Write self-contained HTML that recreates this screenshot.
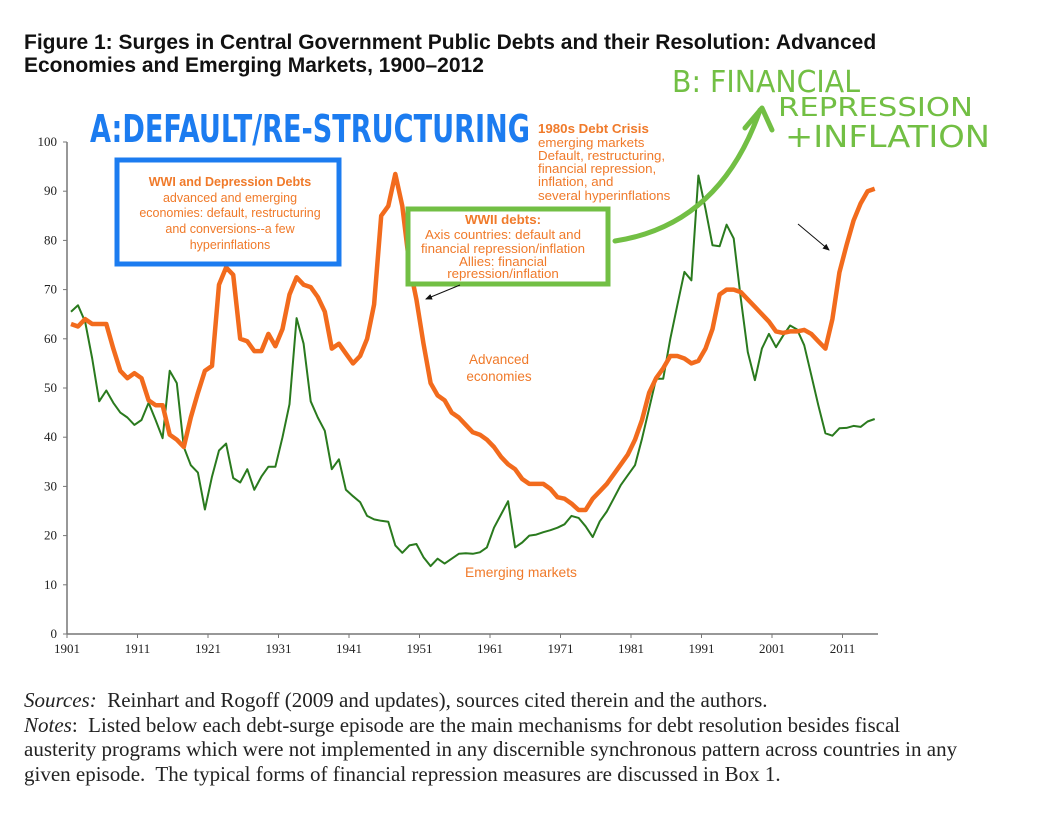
<!DOCTYPE html>
<html><head><meta charset="utf-8">
<style>
body{margin:0;background:#fff;width:1048px;height:815px;overflow:hidden;position:relative;font-family:"Liberation Sans",sans-serif}
.title{position:absolute;left:24px;top:31px;font-weight:bold;font-size:21px;line-height:23px;color:#111;white-space:nowrap}
.foot{position:absolute;left:24px;top:688px;font-family:"Liberation Serif",serif;font-size:21px;line-height:24.5px;color:#222;white-space:nowrap}
</style></head><body>
<div class="title">Figure 1: Surges in Central Government Public Debts and their Resolution: Advanced<br>Economies and Emerging Markets, 1900–2012</div>
<svg id="chart" width="1048" height="815" style="position:absolute;left:0;top:0"></svg>
<div class="foot"><i>Sources:</i>&nbsp; Reinhart and Rogoff (2009 and updates), sources cited therein and the authors.<br><i>Notes</i>:&nbsp; Listed below each debt-surge episode are the main mechanisms for debt resolution besides fiscal<br>austerity programs which were not implemented in any discernible synchronous pattern across countries in any<br>given episode.&nbsp; The typical forms of financial repression measures are discussed in Box 1.</div>
<script>
const firstYear = 1901;
const advanced = [63,62.5,64,63,63,63,58,53.5,52,53,52,47.5,46.5,46.5,40.5,39.5,38,44,49,53.5,54.5,71,74.5,73,60,59.5,57.5,57.5,61,58.5,62,69,72.5,71,70.5,68.5,65.5,58,59,57,55,56.5,60,67,85,87,93.5,87,75,68,59,51,48.5,47.5,45,44,42.5,41,40.5,39.5,38,36,34.5,33.5,31.5,30.5,30.5,30.5,29.5,27.8,27.5,26.5,25.2,25.2,27.5,29,30.5,32.5,34.5,36.5,39.5,43.5,49,52,54,56.5,56.5,56,55,55.5,58,62,69,70,70,69.5,68,66.5,65,63.5,61.5,61.2,61.5,61.5,61.8,61,59.5,58,64,73.5,79,84,87.5,90,90.5];
const emerging = [65.5,66.8,63.5,56,47.3,49.5,47,45,44,42.5,43.5,47,43.5,39.8,53.5,51,38,34.3,32.8,25.3,32,37.3,38.7,31.7,30.8,33.5,29.3,32,34,34,40,46.7,64.2,59,47.3,44,41.3,33.5,35.5,29.3,28,26.8,24,23.3,23,22.8,18,16.5,18,18.3,15.6,13.8,15.3,14.3,15.3,16.3,16.4,16.3,16.6,17.6,21.6,24.3,27,17.6,18.6,20,20.2,20.7,21.1,21.6,22.3,24,23.6,21.9,19.7,22.9,24.9,27.6,30.3,32.3,34.3,39.7,45.8,51.9,51.9,60,66.8,73.6,71.9,93.2,86.4,79,78.8,83.2,80.4,68.2,57.3,51.6,58,61,58.3,60.6,62.7,61.9,58.7,52.6,46.5,40.8,40.3,41.8,41.9,42.3,42.1,43.2,43.7];
const yTicks = [0,10,20,30,40,50,60,70,80,90,100];
const xTicks = [1901,1911,1921,1931,1941,1951,1961,1971,1981,1991,2001,2011];

const NS='http://www.w3.org/2000/svg';
const svg=document.getElementById('chart');
const X0=67,X1=878,Y0=634,Y100=142;
function xTick(yr){return X0+(yr-1901)*7.05;}
function xData(i){return 71+i*7.05;}
function yS(v){return Y0-(v/100)*(Y0-Y100);}
function mk(tag,attrs,parent){const e=document.createElementNS(NS,tag);for(const k in attrs)e.setAttribute(k,attrs[k]);(parent||svg).appendChild(e);return e;}

let ax=mk('line',{x1:X0,y1:Y100,x2:X0,y2:Y0,stroke:'#777','stroke-width':1.5});


ax=mk('line',{x1:X0,y1:Y0,x2:X1,y2:Y0,stroke:'#777','stroke-width':1.5});


yTicks.forEach(v=>{
  mk('line',{x1:X0-4,y1:yS(v),x2:X0,y2:yS(v),stroke:'#777'});
  const t=mk('text',{x:57,y:yS(v)+4,'text-anchor':'end','font-family':'Liberation Serif, serif','font-size':13,fill:'#222'});
  t.textContent=v;
  
  
});
xTicks.forEach(yr=>{
  mk('line',{x1:xTick(yr),y1:Y0,x2:xTick(yr),y2:Y0+4,stroke:'#777'});
  const t=mk('text',{x:xTick(yr),y:653,'text-anchor':'middle','font-family':'Liberation Serif, serif','font-size':13,fill:'#222'});
  t.textContent=yr;
  
  
});
function pts(arr){return arr.map((v,i)=>xData(i).toFixed(1)+','+yS(v).toFixed(1)).join(' ');}
const gl=mk('polyline',{points:pts(emerging),fill:'none',stroke:'#2a7a1e','stroke-width':2,'stroke-linejoin':'round'});


const ol=mk('polyline',{points:pts(advanced),fill:'none',stroke:'#f26b1d','stroke-width':4.5,'stroke-linejoin':'round'});


</script>
<svg width="1048" height="815" style="position:absolute;left:0;top:0">
<defs><marker id="ah" markerWidth="8" markerHeight="8" refX="6" refY="3" orient="auto"><path d="M0,0 L7,3 L0,6 z" fill="#111"/></marker></defs>
<rect x="117" y="160" width="222" height="104" fill="#fff" stroke="#1c7cf0" stroke-width="5"/>
<g font-family="Liberation Sans, sans-serif" font-size="12.5" fill="#f07a2a" text-anchor="middle">
<text x="230" y="186" font-weight="bold">WWI and Depression Debts</text>
<text x="230" y="202">advanced  and emerging</text>
<text x="230" y="217">economies: default, restructuring</text>
<text x="230" y="233">and conversions--a  few</text>
<text x="230" y="249">hyperinflations</text></g>
<rect x="408" y="209" width="200" height="75" fill="#fff" stroke="#72bf44" stroke-width="5"/>
<g font-family="Liberation Sans, sans-serif" font-size="13.3" fill="#f07a2a" text-anchor="middle">
<text x="503" y="224" font-weight="bold">WWII debts:</text>
<text x="503" y="239">Axis countries: default and</text>
<text x="503" y="253">financial repression/inflation</text>
<text x="503" y="266">Allies: financial</text>
<text x="503" y="278">repression/inflation</text></g>
<g font-family="Liberation Sans, sans-serif" font-size="13.3" fill="#f07a2a">
<text x="538" y="133" font-weight="bold">1980s Debt Crisis</text>
<text x="538" y="147">emerging markets</text>
<text x="538" y="160">Default, restructuring,</text>
<text x="538" y="173">financial repression,</text>
<text x="538" y="186">inflation, and</text>
<text x="538" y="200">several hyperinflations</text></g>
<text x="499" y="364" text-anchor="middle" font-size="13.5" fill="#f07a2a">Advanced</text>
<text x="499" y="381" text-anchor="middle" font-size="13.5" fill="#f07a2a">economies</text>
<text x="521" y="577" text-anchor="middle" font-size="13.8" fill="#f07a2a">Emerging markets</text>
<line x1="460" y1="285" x2="426" y2="299" stroke="#111" stroke-width="1" marker-end="url(#ah)"/>
<line x1="798" y1="224" x2="829" y2="250" stroke="#111" stroke-width="1" marker-end="url(#ah)"/>
<path d="M615,241 Q720,225 760,110" fill="none" stroke="#72bf44" stroke-width="5" stroke-linecap="round"/>
<path d="M745,128 L762,108 L772,130" fill="none" stroke="#72bf44" stroke-width="5" stroke-linecap="round" stroke-linejoin="round"/>
<text x="90" y="142" font-family="DejaVu Sans, sans-serif" font-size="38" font-weight="bold" fill="#1c7cf0" textLength="440" lengthAdjust="spacingAndGlyphs">A:DEFAULT/RE-STRUCTURING</text>
<g font-family="DejaVu Sans, sans-serif" fill="#72bf44">
<text x="672" y="92" font-size="30" textLength="188" lengthAdjust="spacingAndGlyphs">B: FINANCIAL</text>
<text x="778" y="116" font-size="26" textLength="195" lengthAdjust="spacingAndGlyphs">REPRESSION</text>
<text x="785" y="147" font-size="30" textLength="205" lengthAdjust="spacingAndGlyphs">+INFLATION</text></g>
</svg>
</body></html>
